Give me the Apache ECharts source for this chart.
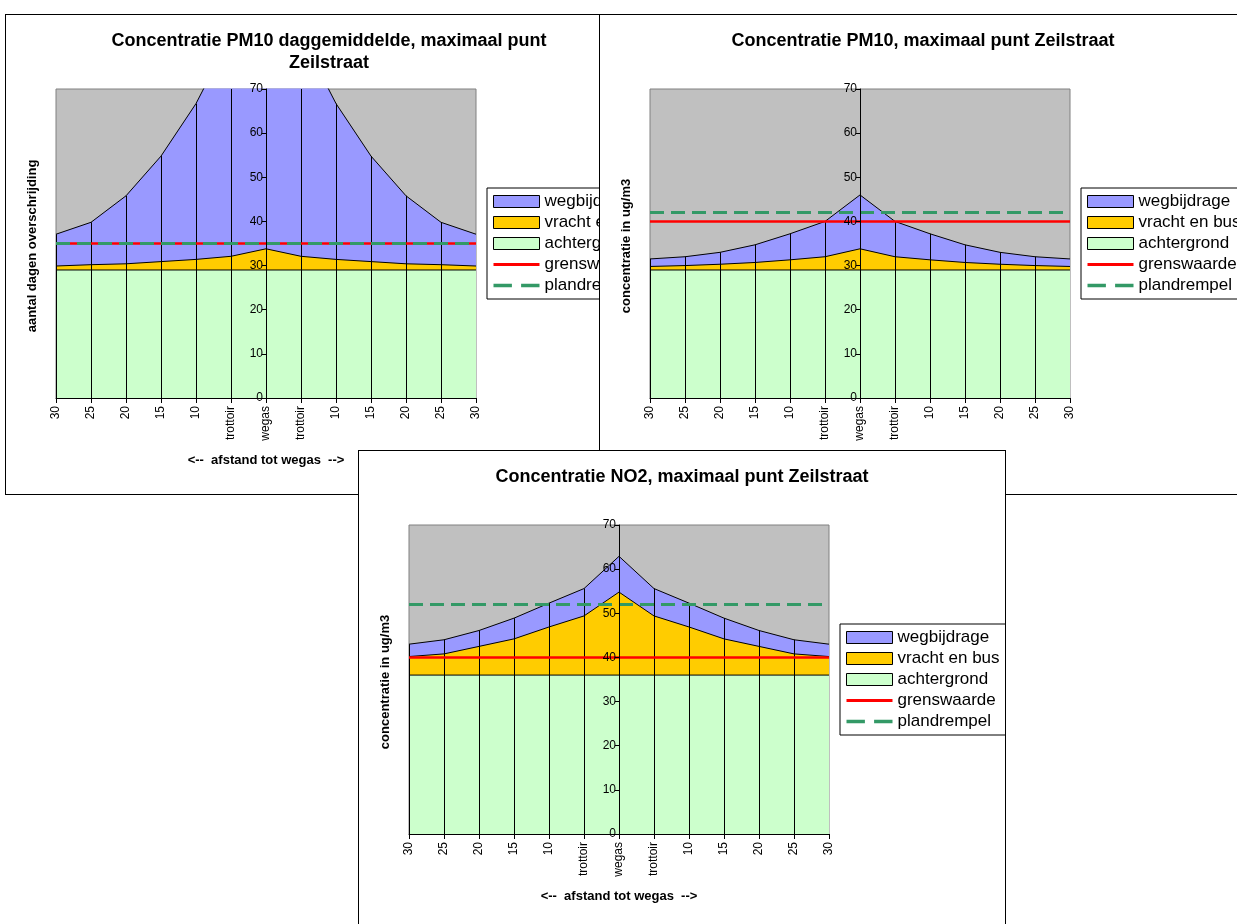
<!DOCTYPE html>
<html><head><meta charset="utf-8">
<script src="https://cdn.jsdelivr.net/npm/echarts@6/dist/echarts.min.js"></script>
<style>
html,body{margin:0;padding:0;width:1237px;height:924px;overflow:hidden;background:#fff;position:relative}
.panel{position:absolute;width:648px;height:481px;box-sizing:border-box;border:1px solid #000;background:#fff;overflow:hidden}
.panel .c{position:absolute;left:0;top:0;width:646px;height:479px}
</style></head><body>
<div class="panel" style="left:5px;top:14px;z-index:1"><div class="c" id="c1"></div></div>
<div class="panel" style="left:599px;top:14px;z-index:2"><div class="c" id="c2"></div></div>
<div class="panel" style="left:358px;top:450px;z-index:3"><div class="c" id="c3"></div></div>
<script>
// ---- data ----
const categories = ['30','25','20','15','10','trottoir','wegas','trottoir','10','15','20','25','30'];
const yTickMax = 70;
const yTickStep = 10;

// Panel 1: PM10 daggemiddelde (aantal dagen overschrijding)
const daysAchtergrond = [29,29,29,29,29,29,29,29,29,29,29,29,29];
const daysVracht      = [0.9,1.2,1.4,1.9,2.4,3.1,4.8,3.1,2.4,1.9,1.4,1.2,0.9];
const daysWeg         = [7.2,9.6,15.4,23.9,35.3,50,61,50,35.3,23.9,15.4,9.6,7.2];
const daysGrens       = [35,35,35,35,35,35,35,35,35,35,35,35,35];
const daysPlan        = [35,35,35,35,35,35,35,35,35,35,35,35,35];

// Panel 2: PM10 concentratie
const pm10Achtergrond = [29,29,29,29,29,29,29,29,29,29,29,29,29];
const pm10Vracht      = [0.8,1.0,1.3,1.7,2.3,3.0,4.8,3.0,2.3,1.7,1.3,1.0,0.8];
const pm10Weg         = [1.7,2.0,2.7,4.0,5.9,8.0,12.2,8.0,5.9,4.0,2.7,2.0,1.7];
const pm10Grens       = [40,40,40,40,40,40,40,40,40,40,40,40,40];
const pm10Plan        = [42,42,42,42,42,42,42,42,42,42,42,42,42];

// Panel 3: NO2 concentratie
const no2Achtergrond = [36,36,36,36,36,36,36,36,36,36,36,36,36];
const no2Vracht      = [4.2,4.8,6.5,8.2,10.9,13.4,18.8,13.4,10.9,8.2,6.5,4.8,4.2];
const no2Weg         = [2.8,3.2,3.6,4.7,5.4,6.2,8.1,6.2,5.4,4.7,3.6,3.2,2.8];
const no2Grens       = [40,40,40,40,40,40,40,40,40,40,40,40,40];
const no2Plan        = [52,52,52,52,52,52,52,52,52,52,52,52,52];

const titles = [
  'Concentratie PM10 daggemiddelde, maximaal punt\nZeilstraat',
  'Concentratie PM10, maximaal punt Zeilstraat',
  'Concentratie NO2, maximaal punt Zeilstraat'
];
const yNames = ['aantal dagen overschrijding','concentratie in ug/m3','concentratie in ug/m3'];
const xName = '<--  afstand tot wegas  -->';
const legendNames = ['wegbijdrage','vracht en bus','achtergrond','grenswaarde','plandrempel'];

// ---- styling ----
const FONT = "'Liberation Sans', Arial, sans-serif";
const C_WEG = '#9999FF', C_VR = '#FFCC00', C_BG = '#CCFFCC', C_RED = '#FF0000', C_PLAN = '#339966';
const half = (categories.length - 1) / 2;
const GRID_W = 420;

function pairs(arr){ return arr.map((v,i)=>[i-half, v]); }

function makeOption(title, yName, bg, vr, weg, grens, plan){
  const lvlBg = bg.slice();
  const lvlVr = bg.map((v,i)=>v+vr[i]);
  const lvlWeg = lvlVr.map((v,i)=>v+weg[i]);
  const area = (name, data, color) => ({
    name, type:'line', data: pairs(data), symbol:'none', showSymbol:false,
    color, itemStyle:{color}, z:3,
    lineStyle:{color:'#000', width:1}, areaStyle:{color, opacity:1},
    clip:true, silent:true
  });
  return {
    animation:false,
    title:{text:title, left:'center', top:10,
      textStyle:{fontSize:18, fontWeight:'bold', fontFamily:FONT, color:'#000', lineHeight:22}},
    grid:{left:50, top:74, width:GRID_W, height:309, show:true,
      backgroundColor:'#C0C0C0', borderColor:'#808080', borderWidth:1},
    legend:{orient:'vertical', left:481, top:173, padding:[5,8,5,6],
      borderColor:'#000', borderWidth:1, backgroundColor:'#fff',
      itemWidth:46, itemHeight:12, itemGap:4, selectedMode:false,
      textStyle:{fontSize:17, fontFamily:FONT, color:'#000'},
      data:[
        {name:legendNames[0], icon:'rect', itemStyle:{color:C_WEG, borderColor:'#000', borderWidth:1}},
        {name:legendNames[1], icon:'rect', itemStyle:{color:C_VR, borderColor:'#000', borderWidth:1}},
        {name:legendNames[2], icon:'rect', itemStyle:{color:C_BG, borderColor:'#000', borderWidth:1}},
        {name:legendNames[3], icon:'path://M0,0h46v3h-46z', itemStyle:{color:C_RED, borderWidth:0}},
        {name:legendNames[4], icon:'path://M0,0h16v3h-16z M24,0h16v3h-16z', itemStyle:{color:C_PLAN, borderWidth:0}}
      ]},
    xAxis:{type:'value', min:-half, max:half, interval:1, z:10,
      axisLine:{onZero:true, lineStyle:{color:'#000', width:1}},
      axisTick:{show:true, length:5, lineStyle:{color:'#000'}},
      axisLabel:{rotate:90, margin:8, fontSize:12, fontFamily:FONT, color:'#000',
        formatter:v=>categories[Math.round(v+half)]},
      splitLine:{show:false}},
    yAxis:{type:'value', min:0, max:yTickMax, interval:yTickStep, z:10,
      position:'left', offset:-GRID_W/2,
      axisLine:{show:true, onZero:false, lineStyle:{color:'#000', width:1}},
      axisTick:{show:true, length:4, lineStyle:{color:'#000'}},
      axisLabel:{fontSize:12, fontFamily:FONT, color:'#000', margin:3},
      splitLine:{show:false}},
    graphic:[
      {type:'text', x:26, y:231, rotation:Math.PI/2, z:100,
        style:{text:yName, fontSize:13, fontWeight:'bold', fontFamily:FONT, fill:'#000', align:'center', verticalAlign:'middle'}},
      {type:'text', x:260, y:445, z:100,
        style:{text:xName, fontSize:13, fontWeight:'bold', fontFamily:FONT, fill:'#000', align:'center', verticalAlign:'middle'}}
    ],
    series:[
      area(legendNames[0], lvlWeg, C_WEG),
      area(legendNames[1], lvlVr, C_VR),
      area(legendNames[2], lvlBg, C_BG),
      {type:'custom', name:'drop', data: pairs(lvlWeg), clip:true, silent:true, z:4,
        encode:{x:0, y:1},
        renderItem:(params, api)=>{
          const p0 = api.coord([api.value(0), 0]);
          const p1 = api.coord([api.value(0), api.value(1)]);
          const x = Math.round(p0[0]) + 0.5;
          return {type:'line', shape:{x1:x, y1:p0[1], x2:x, y2:p1[1]}, style:{stroke:'#000', lineWidth:1}};
        }},
      {name:legendNames[3], type:'line', data:pairs(grens), symbol:'none', showSymbol:false, z:5,
        color:C_RED, lineStyle:{color:C_RED, width:2.5}, clip:true, silent:true},
      {name:legendNames[4], type:'line', data:pairs(plan), symbol:'none', showSymbol:false, z:6,
        color:C_PLAN, lineStyle:{color:C_PLAN, width:3, type:[14,7]}, clip:true, silent:true}
    ]
  };
}

const charts = [
  ['c1', titles[0], yNames[0], daysAchtergrond, daysVracht, daysWeg, daysGrens, daysPlan],
  ['c2', titles[1], yNames[1], pm10Achtergrond, pm10Vracht, pm10Weg, pm10Grens, pm10Plan],
  ['c3', titles[2], yNames[2], no2Achtergrond, no2Vracht, no2Weg, no2Grens, no2Plan]
];
charts.forEach(c=>{
  const ch = echarts.init(document.getElementById(c[0]), null, {renderer:'canvas'});
  ch.setOption(makeOption(c[1], c[2], c[3], c[4], c[5], c[6], c[7]));
});
</script>
</body></html>
